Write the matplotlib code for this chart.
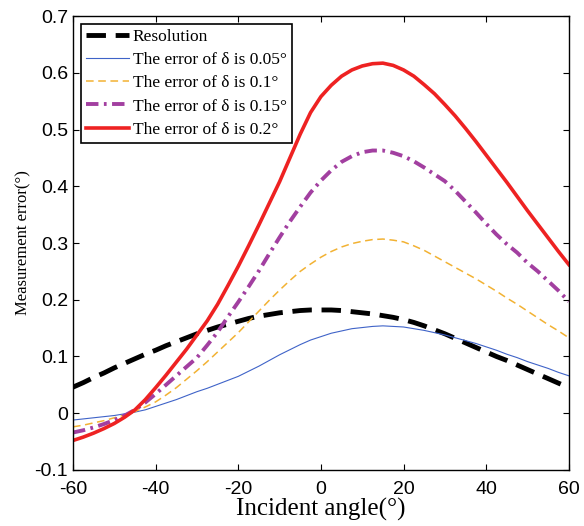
import matplotlib
matplotlib.use("Agg")
import matplotlib.pyplot as plt

plt.rcParams["axes.unicode_minus"] = False

# incident angle (deg), every 2.5 degrees
angles = [-60 + 2.5 * i for i in range(49)]

resolution = [0.046, 0.054, 0.063, 0.071, 0.080, 0.088, 0.096, 0.104, 0.111, 0.119,
              0.126, 0.133, 0.140, 0.146, 0.152, 0.157, 0.162, 0.167, 0.171, 0.174,
              0.177, 0.179, 0.181, 0.182, 0.182, 0.182, 0.181, 0.179, 0.177, 0.175,
              0.172, 0.169, 0.165, 0.160, 0.154, 0.147, 0.140, 0.132, 0.124, 0.116,
              0.108, 0.100, 0.093, 0.085, 0.077, 0.069, 0.061, 0.053, 0.045]
err_005 = [-0.012, -0.010, -0.008, -0.006, -0.004, -0.001, 0.002, 0.006, 0.012, 0.018,
           0.024, 0.031, 0.038, 0.044, 0.051, 0.058, 0.065, 0.074, 0.083, 0.093,
           0.103, 0.112, 0.121, 0.129, 0.135, 0.141, 0.145, 0.149, 0.151, 0.153,
           0.154, 0.153, 0.152, 0.149, 0.146, 0.142, 0.138, 0.133, 0.128, 0.123,
           0.117, 0.111, 0.104, 0.098, 0.091, 0.085, 0.079, 0.072, 0.066]
err_01 = [-0.024, -0.021, -0.017, -0.013, -0.008, -0.003, 0.003, 0.011, 0.020, 0.032,
          0.045, 0.060, 0.075, 0.091, 0.108, 0.125, 0.142, 0.161, 0.180, 0.199,
          0.217, 0.234, 0.250, 0.263, 0.275, 0.285, 0.293, 0.299, 0.303, 0.306,
          0.307, 0.305, 0.302, 0.295, 0.287, 0.277, 0.267, 0.257, 0.247, 0.237,
          0.226, 0.215, 0.203, 0.192, 0.180, 0.168, 0.156, 0.145, 0.133]
err_015 = [-0.034, -0.030, -0.025, -0.019, -0.012, -0.004, 0.006, 0.019, 0.034, 0.050,
           0.066, 0.082, 0.098, 0.120, 0.143, 0.170, 0.196, 0.223, 0.251, 0.281,
           0.310, 0.338, 0.364, 0.389, 0.410, 0.428, 0.443, 0.453, 0.460, 0.463,
           0.463, 0.459, 0.453, 0.444, 0.433, 0.421, 0.409, 0.392, 0.373, 0.354,
           0.334, 0.315, 0.298, 0.283, 0.265, 0.250, 0.233, 0.216, 0.197]
err_02 = [-0.048, -0.042, -0.035, -0.027, -0.018, -0.007, 0.006, 0.024, 0.045, 0.067,
          0.090, 0.113, 0.138, 0.163, 0.192, 0.225, 0.259, 0.295, 0.332, 0.370,
          0.408, 0.450, 0.492, 0.530, 0.558, 0.578, 0.594, 0.605, 0.612, 0.616,
          0.617, 0.613, 0.605, 0.594, 0.579, 0.563, 0.544, 0.524, 0.502, 0.479,
          0.455, 0.431, 0.407, 0.382, 0.357, 0.333, 0.309, 0.285, 0.262]

labels = ["Resolution",
          "The error of \u03b4 is 0.05\u00b0",
          "The error of \u03b4 is 0.1\u00b0",
          "The error of \u03b4 is 0.15\u00b0",
          "The error of \u03b4 is 0.2\u00b0"]

serif = "Liberation Serif"
sans = "Liberation Sans"

fig = plt.figure(figsize=(5.84, 5.26), dpi=100)
ax = fig.add_axes([0.125, 0.1065, 0.849, 0.863])

ax.plot(angles, resolution, color="black", lw=3.5, dashes=(4, 2), label=labels[0])
ax.plot(angles, err_005, color="#3F63C8", lw=0.8, label=labels[1])
ax.plot(angles, err_01, color="#F2B233", lw=1.1, dashes=(5, 3), label=labels[2])
ax.plot(angles, err_015, color="#A23FA0", lw=2.8, dashes=(3.2, 1.4, 0.7, 1.4), label=labels[3])
ax.plot(angles, err_02, color="#EE2222", lw=2.6, label=labels[4])

ax.set_xlim(-60, 60)
ax.set_ylim(-0.1, 0.7)
ax.set_xticks(range(-60, 61, 20))
ax.set_yticks([-0.1, 0, 0.1, 0.2, 0.3, 0.4, 0.5, 0.6, 0.7])
ax.set_yticklabels(["-0.1", "0", "0.1", "0.2", "0.3", "0.4", "0.5", "0.6", "0.7"])
ax.tick_params(direction="in", top=True, right=True, length=4, width=0.8)
ax.tick_params(axis="x", pad=8)
for lbl in ax.get_xticklabels() + ax.get_yticklabels():
    lbl.set_fontfamily(sans)
    lbl.set_fontsize(14)

for sp in ax.spines.values():
    sp.set_linewidth(1.0)

ax.set_xlabel("Incident angle(\u00b0)", fontfamily=serif, fontsize=18, labelpad=0)
ax.set_ylabel("Measurement error(\u00b0)", fontfamily=serif, fontsize=12, labelpad=2)

leg = ax.legend(loc="upper left", prop={"family": serif, "size": 12.5}, frameon=True,
                fancybox=False, edgecolor="black", framealpha=1, borderaxespad=0.45,
                handlelength=2.5, handletextpad=0.2, labelspacing=0.4, borderpad=0.3)
leg.get_frame().set_linewidth(1.2)

fig.savefig("out.png", dpi=100)
